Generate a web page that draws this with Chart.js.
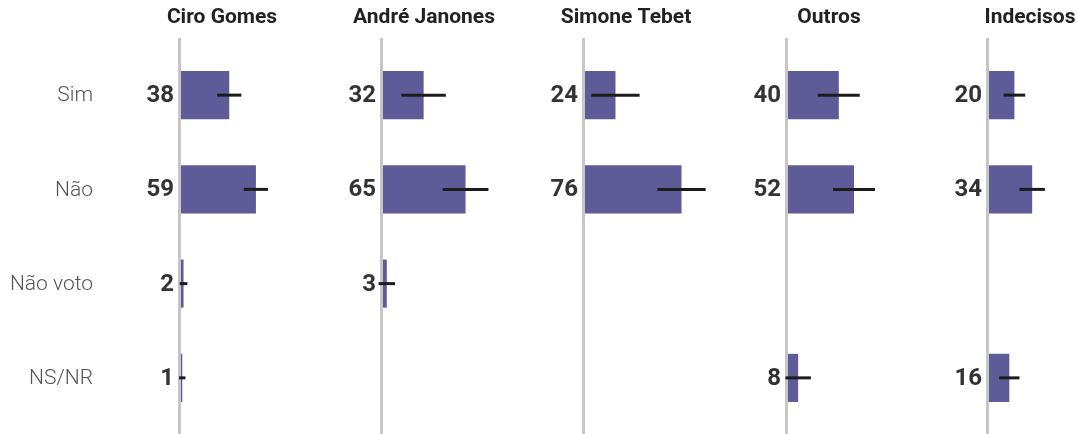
<!DOCTYPE html>
<html lang="pt">
<head>
<meta charset="UTF-8">
<script src="https://cdn.jsdelivr.net/npm/chart.js"></script>
<style>
  html, body { margin: 0; padding: 0; background: #fff; overflow: hidden; }
  #wrap { position: relative; width: 1077px; height: 434px; overflow: hidden; }
  #wrap canvas { position: absolute; top: 0; }
</style>
</head>
<body>
<div id="wrap"></div>
<script>
// data
const categories = ['Sim', 'Não', 'Não voto', 'NS/NR']
const panelTitles = ['Ciro Gomes', 'André Janones', 'Simone Tebet', 'Outros', 'Indecisos']

const ciroValues = [38, 59, 2, 1]
const janonesValues = [32, 65, 3, null]
const tebetValues = [24, 76, null, null]
const outrosValues = [40, 52, null, 8]
const indecisosValues = [20, 34, null, 16]

// margin of error (+/-) per bar
const ciroMargin = [9.5, 9.5, 3, 2.5]
const janonesMargin = [17.5, 18, 6.5, null]
const tebetMargin = [19, 19, null, null]
const outrosMargin = [16.5, 16.5, null, 10]
const indecisosMargin = [8.5, 10, null, 8]

const allValues = [ciroValues, janonesValues, tebetValues, outrosValues, indecisosValues]
const allMargins = [ciroMargin, janonesMargin, tebetMargin, outrosMargin, indecisosMargin]

const barColor = '#5f5b98'

// draws axis line, title, error bars and labels
const panelDecor = {
  id: 'panelDecor',
  beforeDatasetsDraw(chart) {
    const ctx = chart.ctx
    const x0 = chart.scales.x.getPixelForValue(0)
    ctx.save()
    ctx.fillStyle = '#c6c6c6'
    ctx.fillRect(x0 - 3, 38, 3, chart.height - 38)
    ctx.restore()
  },
  afterDatasetsDraw(chart) {
    const ctx = chart.ctx
    const xs = chart.scales.x
    const ys = chart.scales.y
    const x0 = xs.getPixelForValue(0)
    const ds = chart.data.datasets[0]
    const opts = chart.options.plugins.panelDecor
    ctx.save()

    ctx.fillStyle = '#222'
    ctx.font = 'bold 21px Roboto'
    ctx.textAlign = 'center'
    ctx.textBaseline = 'middle'
    ctx.fillText(opts.title, x0 + 41, 18)

    for (let i = 0; i < ds.data.length; i++) {
      const v = ds.data[i]
      if (v === null) continue
      const y = ys.getPixelForValue(i)
      const m = ds.margins[i]
      const lo = xs.getPixelForValue(v - m)
      const hi = xs.getPixelForValue(v + m)
      ctx.strokeStyle = '#1c1c1c'
      ctx.lineWidth = 3
      ctx.beginPath()
      ctx.moveTo(lo, y)
      ctx.lineTo(hi, y)
      ctx.stroke()

      ctx.fillStyle = '#333'
      ctx.font = 'bold 24px Roboto'
      ctx.textAlign = 'right'
      ctx.fillText(String(v), Math.min(x0 - 7, lo - 2), y + 1)
    }

    if (opts.showCategories) {
      ctx.fillStyle = '#555'
      ctx.font = '300 21px Roboto'
      ctx.textAlign = 'right'
      categories.forEach((c, i) => {
        ctx.fillText(c, 93, ys.getPixelForValue(i) + 1)
      })
    }
    ctx.restore()
  }
}

const wrap = document.getElementById('wrap')
const zeros = [181, 383, 585, 788, 989]

panelTitles.forEach((title, p) => {
  const first = p === 0
  const left = first ? 0 : zeros[p] - 61
  const padLeft = first ? 181 : 61
  const width = padLeft + 127 + 14
  const canvas = document.createElement('canvas')
  canvas.width = width
  canvas.height = 434
  canvas.style.left = left + 'px'
  canvas.style.width = width + 'px'
  canvas.style.height = '434px'
  wrap.appendChild(canvas)

  new Chart(canvas, {
    type: 'bar',
    data: {
      labels: categories,
      datasets: [{
        data: allValues[p],
        margins: allMargins[p],
        backgroundColor: barColor,
        borderWidth: 0,
        barPercentage: 0.51,
        categoryPercentage: 1
      }]
    },
    options: {
      indexAxis: 'y',
      responsive: false,
      animation: false,
      devicePixelRatio: 1,
      events: [],
      layout: { padding: { left: padLeft, right: 14, top: 48, bottom: 9 } },
      scales: {
        x: { display: false, min: 0, max: 100 },
        y: { display: false }
      },
      plugins: {
        legend: { display: false },
        tooltip: { enabled: false },
        panelDecor: { title: title, showCategories: first }
      }
    },
    plugins: [panelDecor]
  })
})
</script>
</body>
</html>
